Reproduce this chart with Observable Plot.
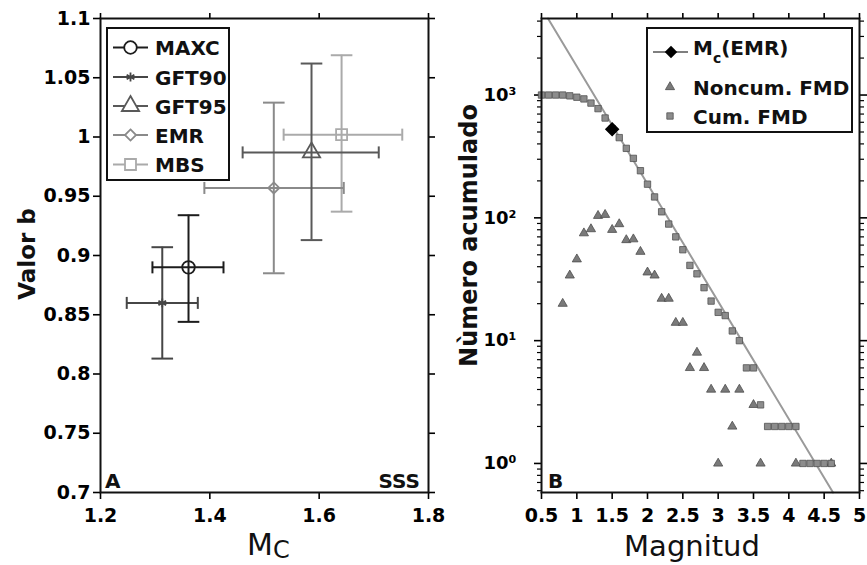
<!DOCTYPE html>
<html>
<head>
<meta charset="utf-8">
<script src="https://cdn.jsdelivr.net/npm/d3@7"></script>
<script src="https://cdn.jsdelivr.net/npm/@observablehq/plot@0.6"></script>
<style>
  body { margin: 0; background: #fff; }
  #wrap { position: relative; width: 867px; height: 565px; overflow: hidden; background: #fff; }
  #wrap svg { position: absolute; top: 0; overflow: visible; }
</style>
</head>
<body>
<div id="wrap"></div>
<script>
// ---- Panel A: b-value against completeness magnitude, one point per Mc method ----
const methods = ["MAXC", "GFT90", "GFT95", "EMR", "MBS"];
const mcValue = [1.361, 1.313, 1.586, 1.517, 1.641];
const mcLow   = [1.295, 1.248, 1.460, 1.390, 1.535];
const mcHigh  = [1.425, 1.378, 1.709, 1.645, 1.752];
const bValue  = [0.890, 0.860, 0.987, 0.957, 1.002];
const bLow    = [0.844, 0.813, 0.913, 0.885, 0.937];
const bHigh   = [0.934, 0.907, 1.062, 1.029, 1.069];
const xTicksA = [1.2, 1.4, 1.6, 1.8];
const yTicksA = [0.7, 0.75, 0.8, 0.85, 0.9, 0.95, 1, 1.05, 1.1];

// ---- Panel B: frequency-magnitude distribution ----
const cumMag = [0.5, 0.6, 0.7, 0.8, 0.9, 1.0, 1.1, 1.2, 1.3, 1.4, 1.5, 1.6, 1.7, 1.8, 1.9, 2.0,
                2.1, 2.2, 2.3, 2.4, 2.5, 2.6, 2.7, 2.8, 2.9, 3.0, 3.1, 3.2, 3.3, 3.4, 3.5, 3.6,
                3.7, 3.8, 3.9, 4.0, 4.1, 4.2, 4.3, 4.4, 4.5, 4.6];
const cumCount = [1000, 1000, 1000, 1000, 985, 960, 930, 860, 775, 650, 530, 450, 368, 305, 242, 188,
                  148, 112, 89, 70, 55, 41, 35, 27, 21, 17, 16, 12, 10, 6, 6, 3,
                  2, 2, 2, 2, 2, 1, 1, 1, 1, 1];
const noncumMag = [0.8, 0.9, 1.0, 1.1, 1.2, 1.3, 1.4, 1.5, 1.6, 1.7, 1.8, 1.9, 2.0, 2.1, 2.2, 2.3,
                   2.4, 2.5, 2.6, 2.7, 2.8, 2.9, 3.0, 3.1, 3.2, 3.3, 3.5, 3.6, 4.1, 4.6];
const noncumCount = [20, 34, 46, 75, 81, 104, 106, 80, 89, 66, 67, 53, 36, 34, 22, 22,
                     14, 14, 6, 8, 6, 4, 1, 4, 2, 4, 3, 1, 1, 1];
const mcEMR = 1.5;          // completeness magnitude from EMR
const mcEMRCount = 527;     // cumulative number at Mc
const aValue = 4.19;        // Gutenberg-Richter a-value of the fit
const xTicksB = [0.5, 1, 1.5, 2, 2.5, 3, 3.5, 4, 4.5, 5];
const yTicksB = [1, 10, 100, 1000];
const yTickLabelsB = ["10\u2070", "10\u00b9", "10\u00b2", "10\u00b3"];

// ---- styling ----
const FONT = "DejaVu Sans";
const methodColors = ["#1c1c1c", "#464646", "#595959", "#8a8a8a", "#aaaaaa"];
const methodSymbols = [d3.symbolCircle, d3.symbolAsterisk, d3.symbolTriangle, d3.symbolDiamond2, d3.symbolSquare];
const methodRadius = [6.3, 4.2, 6.4, 5, 6.2];

// line-shaped cap symbols for error bars (half-length = r)
const capH = { draw(ctx, size) { const w = Math.sqrt(size / Math.PI); ctx.moveTo(-w, 0); ctx.lineTo(w, 0); } };
const capV = { draw(ctx, size) { const h = Math.sqrt(size / Math.PI); ctx.moveTo(0, -h); ctx.lineTo(0, h); } };

const rowsA = methods.map((m, i) => ({
  method: m, mc: mcValue[i], mcLo: mcLow[i], mcHi: mcHigh[i],
  b: bValue[i], bLo: bLow[i], bHi: bHigh[i], i
}));

const fmt = d => String(+d.toFixed(2));
const tickText = { fontSize: 19, fontWeight: "bold", fontFamily: FONT };

// Error bars and markers, drawn from the lightest series up to MAXC on top
const seriesMarks = [];
for (let i = rowsA.length - 1; i >= 0; --i) {
  const r = [rowsA[i]];
  const c = methodColors[i];
  seriesMarks.push(
    Plot.ruleX(r, { x: "mc", y1: "bLo", y2: "bHi", stroke: c, strokeWidth: 2 }),
    Plot.ruleY(r, { y: "b", x1: "mcLo", x2: "mcHi", stroke: c, strokeWidth: 2 }),
    Plot.dot(r, { x: "mc", y: "bLo", symbol: capH, r: 10.8, stroke: c, fill: "none", strokeWidth: 2 }),
    Plot.dot(r, { x: "mc", y: "bHi", symbol: capH, r: 10.8, stroke: c, fill: "none", strokeWidth: 2 }),
    Plot.dot(r, { x: "mcLo", y: "b", symbol: capV, r: 6, stroke: c, fill: "none", strokeWidth: 2 }),
    Plot.dot(r, { x: "mcHi", y: "b", symbol: capV, r: 6, stroke: c, fill: "none", strokeWidth: 2 }),
    Plot.dot(r, { x: "mc", y: "b", symbol: methodSymbols[i], r: methodRadius[i], stroke: c, fill: "none", strokeWidth: 1.8 })
  );
}

const plotA = Plot.plot({
  width: 455, height: 565,
  marginLeft: 100, marginRight: 27, marginTop: 18, marginBottom: 73,
  x: { domain: [1.2, 1.8] },
  y: { domain: [0.7, 1.1] },
  style: { background: "transparent", overflow: "visible", fontFamily: FONT },
  marks: [
    Plot.axisX({ ticks: xTicksA, tickFormat: fmt, tickSize: 7, tickPadding: 9, label: null, strokeWidth: 1.6, ...tickText }),
    Plot.axisX({ anchor: "top", ticks: xTicksA, tickFormat: () => "", tickSize: 6, label: null, strokeWidth: 1.6 }),
    Plot.axisY({ ticks: yTicksA, tickFormat: fmt, tickSize: 7, tickPadding: 3, label: null, strokeWidth: 1.6, ...tickText }),
    Plot.axisY({ anchor: "right", ticks: yTicksA, tickFormat: () => "", tickSize: 6, label: null, strokeWidth: 1.6 }),
    ...seriesMarks,
    Plot.frame({ stroke: "#111", strokeWidth: 2 })
  ]
});
plotA.style.left = "0px";

// ---- Panel B plot ----
const yDomainB = [0.58, 4200];
const bEMR = bValue[3];
const fitLine = [
  { m: (aValue - Math.log10(yDomainB[1])) / bEMR, n: yDomainB[1] },
  { m: (aValue - Math.log10(yDomainB[0])) / bEMR, n: yDomainB[0] }
];
const minorTicksB = [];
for (const dec of [0.1, 1, 10, 100, 1000])
  for (let k = 2; k <= 9; ++k) {
    const v = k * dec;
    if (v >= yDomainB[0] && v <= yDomainB[1] && !yTicksB.includes(v)) minorTicksB.push(v);
  }

const cumRows = cumMag.map((m, i) => ({ m, n: cumCount[i] }));
const noncumRows = noncumMag.map((m, i) => ({ m, n: noncumCount[i] }));
const decadeLabel = d => yTickLabelsB[yTicksB.findIndex(t => Math.abs(t - d) < 1e-9 * t)] ?? "";

const plotB = Plot.plot({
  width: 427, height: 565,
  marginLeft: 101, marginRight: 8, marginTop: 18, marginBottom: 73,
  x: { domain: [0.5, 5] },
  y: { type: "log", domain: yDomainB },
  style: { background: "transparent", overflow: "visible", fontFamily: FONT },
  marks: [
    Plot.axisX({ ticks: xTicksB, tickFormat: fmt, tickSize: 7, tickPadding: 9, label: null, strokeWidth: 1.6, ...tickText }),
    Plot.axisX({ anchor: "top", ticks: xTicksB, tickFormat: () => "", tickSize: 6, label: null, strokeWidth: 1.6 }),
    Plot.axisY({ ticks: yTicksB, tickFormat: decadeLabel, tickSize: 7, tickPadding: 18, label: null, strokeWidth: 1.6, fontSize: 18, fontWeight: "bold", fontFamily: FONT }),
    Plot.axisY({ ticks: minorTicksB, tickFormat: () => "", tickSize: 4, label: null, strokeWidth: 1.2 }),
    Plot.axisY({ anchor: "right", ticks: yTicksB, tickFormat: () => "", tickSize: 7, label: null, strokeWidth: 1.6 }),
    Plot.axisY({ anchor: "right", ticks: minorTicksB, tickFormat: () => "", tickSize: 4, label: null, strokeWidth: 1.2 }),
    Plot.line(fitLine, { x: "m", y: "n", stroke: "#9a9a9a", strokeWidth: 2 }),
    Plot.dot(noncumRows, { x: "m", y: "n", symbol: "triangle", r: 3.4, fill: "#7a7a7a", stroke: "#4c4c4c", strokeWidth: 0.8 }),
    Plot.dot(cumRows, { x: "m", y: "n", symbol: "square", r: 3.6, fill: "#8c8c8c", stroke: "#505050", strokeWidth: 0.8 }),
    Plot.dot([{ m: mcEMR, n: mcEMRCount }], { x: "m", y: "n", symbol: "diamond2", r: 5.6, fill: "#000", stroke: "#000" }),
    Plot.frame({ stroke: "#111", strokeWidth: 2 })
  ]
});
plotB.style.left = "440px";

const wrap = document.getElementById("wrap");
wrap.appendChild(plotA);
wrap.appendChild(plotB);

// ---- annotations, axis titles and legends ----
function symbolPath(sym, r) { return d3.symbol(sym, Math.PI * r * r)(); }

const svgA = d3.select(plotA);
const gA = svgA.append("g").attr("font-family", FONT).attr("text-anchor", "start").attr("fill", "#111");
// y title
gA.append("text").attr("transform", "translate(35,254) rotate(-90)")
  .attr("text-anchor", "middle").attr("font-size", 23).attr("font-weight", "bold").text("Valor b");
// x title M_C
const xtA = gA.append("text").attr("x", 247).attr("y", 555).attr("font-size", 30);
xtA.append("tspan").text("M");
xtA.append("tspan").attr("font-size", 24).attr("dy", 3).text("C");
// corner labels
gA.append("text").attr("x", 105).attr("y", 488).attr("font-size", 20).attr("font-weight", "bold").text("A");
gA.append("text").attr("x", 420).attr("y", 488).attr("text-anchor", "end").attr("font-size", 20).attr("font-weight", "bold").text("SSS");
// legend
const legA = gA.append("g");
legA.append("rect").attr("x", 107).attr("y", 28).attr("width", 122).attr("height", 152)
  .attr("fill", "#fff").attr("stroke", "#111").attr("stroke-width", 2);
const legRowsA = [47.5, 77, 106, 135, 164.5];
methods.forEach((m, i) => {
  const y = legRowsA[i], c = methodColors[i];
  legA.append("line").attr("x1", 113).attr("x2", 148).attr("y1", y).attr("y2", y)
    .attr("stroke", c).attr("stroke-width", 1.8);
  legA.append("path").attr("d", symbolPath(methodSymbols[i], methodRadius[i]))
    .attr("transform", `translate(130.5,${y})`).attr("fill", "#fff").attr("stroke", c).attr("stroke-width", 1.8);
  legA.append("text").attr("x", 155).attr("y", y + 7.5).attr("font-size", 20).attr("font-weight", "bold")
    .attr("fill", "#111").text(m);
});

const svgB = d3.select(plotB);
const gB = svgB.append("g").attr("font-family", FONT).attr("text-anchor", "start").attr("fill", "#111");
gB.append("text").attr("transform", "translate(37,235.5) rotate(-90)")
  .attr("text-anchor", "middle").attr("font-size", 24).attr("font-weight", "bold").text("Nùmero acumulado");
gB.append("text").attr("x", 252).attr("y", 556).attr("text-anchor", "middle").attr("font-size", 29).text("Magnitud");
gB.append("text").attr("x", 108).attr("y", 488).attr("font-size", 20).attr("font-weight", "bold").text("B");
const legB = gB.append("g");
legB.append("rect").attr("x", 207).attr("y", 28).attr("width", 205).attr("height", 104)
  .attr("fill", "#fff").attr("stroke", "#111").attr("stroke-width", 2);
legB.append("line").attr("x1", 213).attr("x2", 248).attr("y1", 52).attr("y2", 52).attr("stroke", "#000").attr("stroke-width", 1.2);
legB.append("path").attr("d", symbolPath(d3.symbolDiamond2, 5.6)).attr("transform", "translate(231,52)").attr("fill", "#000");
const mcLab = legB.append("text").attr("x", 253).attr("y", 55).attr("font-size", 20).attr("font-weight", "bold");
mcLab.append("tspan").text("M");
mcLab.append("tspan").attr("font-size", 14).attr("dy", 8).text("c");
mcLab.append("tspan").attr("dy", -8).text("(EMR)");
legB.append("path").attr("d", symbolPath(d3.symbolTriangle, 3.4)).attr("transform", "translate(230,87)")
  .attr("fill", "#7a7a7a").attr("stroke", "#4c4c4c").attr("stroke-width", 0.8);
legB.append("text").attr("x", 253).attr("y", 95).attr("font-size", 20).attr("font-weight", "bold").text("Noncum. FMD");
legB.append("path").attr("d", symbolPath(d3.symbolSquare, 3.6)).attr("transform", "translate(230,116)")
  .attr("fill", "#8c8c8c").attr("stroke", "#505050").attr("stroke-width", 0.8);
legB.append("text").attr("x", 253).attr("y", 124).attr("font-size", 20).attr("font-weight", "bold").text("Cum. FMD");
</script>
</body>
</html>
